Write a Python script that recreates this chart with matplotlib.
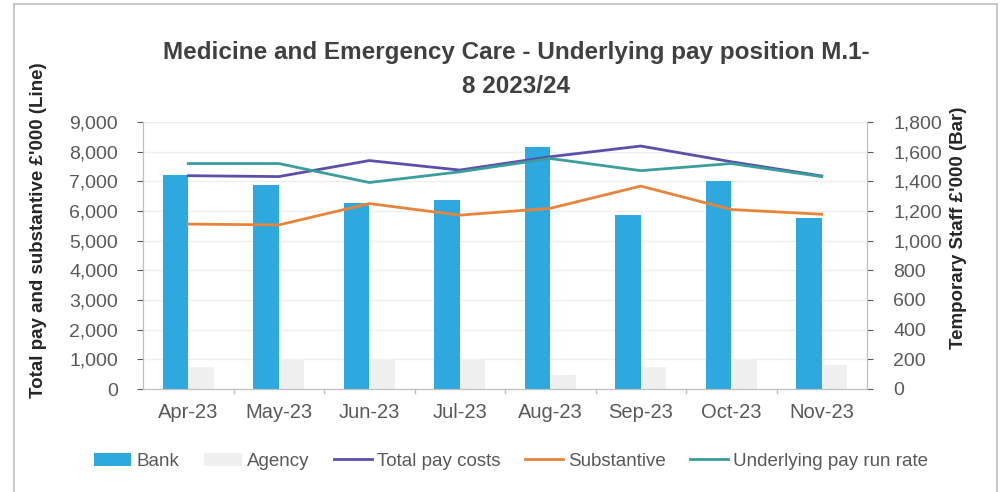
import numpy as np
import matplotlib.pyplot as plt
from matplotlib.patches import Rectangle

# monthly figures, £'000
months = ["Apr-23", "May-23", "Jun-23", "Jul-23", "Aug-23", "Sep-23", "Oct-23", "Nov-23"]
bank = [1443, 1375, 1256, 1274, 1633, 1173, 1402, 1151]
agency = [150, 205, 200, 200, 95, 150, 200, 160]
total_pay = [7190, 7160, 7700, 7380, 7830, 8190, 7660, 7180]
substantive = [5560, 5530, 6250, 5860, 6090, 6840, 6050, 5890]
run_rate = [7600, 7600, 6960, 7320, 7770, 7360, 7600, 7160]

plt.rcParams['font.family'] = ['Liberation Sans', 'DejaVu Sans']
text_col = "#595959"

fig = plt.figure(figsize=(10.02, 4.92), dpi=100)
fig.patches.append(Rectangle((14 / 1002, -0.1), 983 / 1002, 1.1 - 4 / 492, transform=fig.transFigure,
                             fill=False, edgecolor="#bfbfbf", linewidth=1.2))

ax = fig.add_axes([143 / 1002, 103 / 492, 724 / 1002, 267 / 492])
ax2 = ax.twinx()
ax.set_zorder(ax2.get_zorder() + 1)
ax.patch.set_visible(False)

x = np.arange(len(months))
w = 0.28
ax2.bar(x - w / 2, bank, w, color="#2EA9DF", label="Bank")
ax2.bar(x + w / 2, agency, w, color="#f0f0f0", label="Agency")
ax2.set_ylim(0, 1800)
ax2.set_yticks(np.arange(0, 1801, 200))
ax2.set_yticklabels([f"{v:,}" for v in range(0, 1801, 200)])

ax.plot(x, total_pay, color="#5B4FAA", lw=2, label="Total pay costs")
ax.plot(x, substantive, color="#E8843A", lw=2, label="Substantive")
ax.plot(x, run_rate, color="#3A9E9C", lw=2, label="Underlying pay run rate")
ax.set_ylim(0, 9000)
ax.set_yticks(np.arange(0, 9001, 1000))
ax.set_yticklabels([f"{v:,}" for v in range(0, 9001, 1000)])
ax.set_xlim(-0.5, len(months) - 0.5)
ax.set_xticks(x)
ax.set_xticklabels(months)

# faint horizontal gridlines behind the bars
for v in range(1000, 9001, 1000):
    ax2.axhline(v / 5, color="#eeeeee", lw=1, zorder=0)

for a in (ax, ax2):
    a.spines["top"].set_visible(False)
    a.tick_params(labelsize=14, colors=text_col, length=4, pad=14)
    for s in ("left", "right", "bottom"):
        a.spines[s].set_color("#bfbfbf")
ax.tick_params(axis="x", length=0, pad=10, labelsize=14.5)
ax2.tick_params(axis="y", pad=15)
# category separators on the x axis
for b in np.arange(0.5, len(months) - 0.5, 1):
    ax.plot([b, b], [0, -120], color="#bfbfbf", lw=1, clip_on=False)

ax.set_ylabel("Total pay and substantive £'000 (Line)", fontsize=13.5, fontweight="bold",
              color="#262626")
ax.yaxis.set_label_coords(-0.133, 0.596)
ax2.set_ylabel("Temporary Staff £'000 (Bar)", fontsize=13.5, fontweight="bold",
               color="#262626")
ax2.yaxis.set_label_coords(1.115, 0.603)

fig.text(0.515, 0.858, "Medicine and Emergency Care - Underlying pay position M.1-\n8 2023/24",
         ha="center", va="center", fontsize=17.5, fontweight="bold", color="#404040",
         linespacing=1.6)

h1, l1 = ax2.get_legend_handles_labels()
h2, l2 = ax.get_legend_handles_labels()
fig.legend(h1 + h2, l1 + l2, loc="center", bbox_to_anchor=(0.51, 0.062), ncol=5,
           frameon=False, fontsize=13.5, labelcolor=text_col, handlelength=2.0,
           handletextpad=0.3, columnspacing=1.3)

fig.savefig("out.png", dpi=100)
